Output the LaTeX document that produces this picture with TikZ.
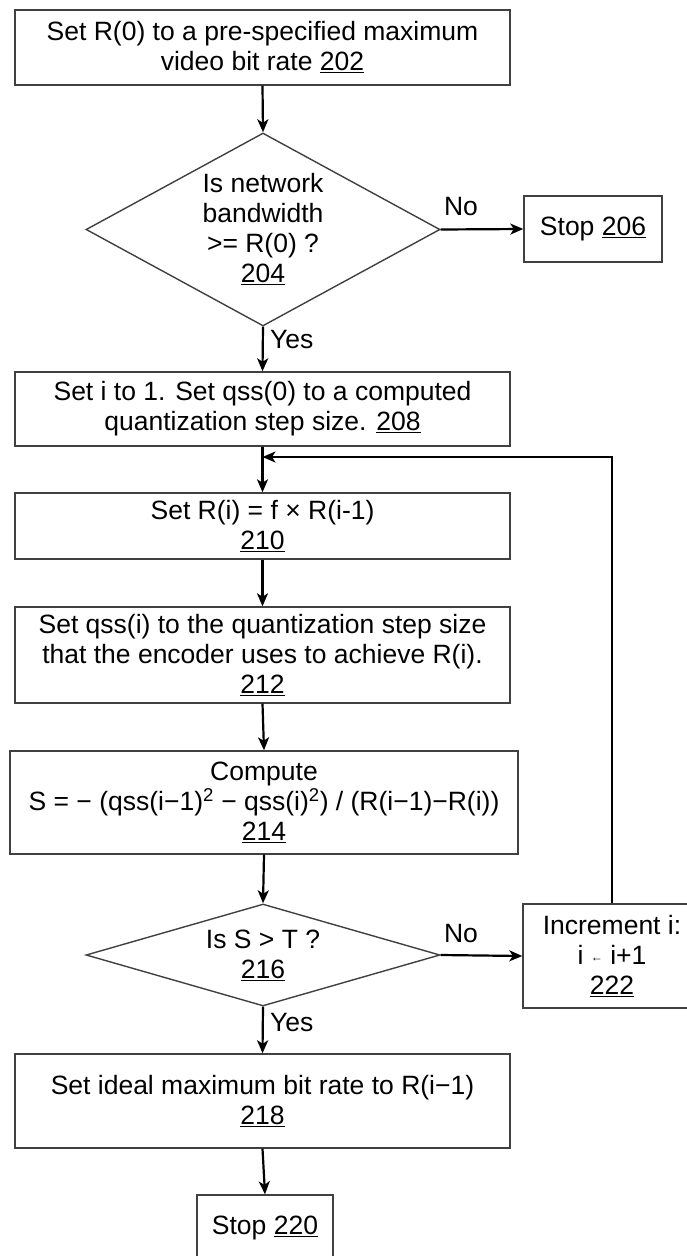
\documentclass[tikz,border=0pt]{standalone}
\usepackage{fontspec}
\setmainfont{Liberation Sans}
\usetikzlibrary{shapes.geometric,arrows.meta}
\begin{document}
\begin{tikzpicture}[x=1pt,y=1pt,
  every node/.style={font=\fontsize{26.5}{30}\selectfont},
  box/.style={draw=black!75, line width=1.4pt, align=center, inner sep=0pt},
  dia/.style={draw=black!75, line width=1.4pt, align=center, diamond, inner sep=0pt},
  flow/.style={line width=2.2pt, -{Stealth[length=13pt,width=11pt,inset=3.5pt]}},
  lbl/.style={inner sep=1pt}]
\useasboundingbox (0,0) rectangle (686,-1256);
\node[box, minimum width=495pt, minimum height=75pt] (b202) at (262.5,-47.5)
  {Set R(0) to a pre-specified maximum\\video bit rate \underline{202}};
\node[dia, minimum width=354pt, minimum height=193pt, shape aspect=1.8] (d204) at (263,-229.5)
  {Is network\\bandwidth\\>= R(0) ?\\\underline{204}};
\node[box, minimum width=138pt, minimum height=66pt] (s206) at (593,-229)
  {Stop \underline{206}};
\node[box, minimum width=495pt, minimum height=74pt] (b208) at (262.5,-409)
  {Set i to 1. Set qss(0) to a computed\\quantization step size. \underline{208}};
\node[box, minimum width=495pt, minimum height=66pt] (b210) at (262.5,-526)
  {Set R(i) = f × R(i-1)\\\underline{210}};
\node[box, minimum width=495pt, minimum height=96pt] (b212) at (262.5,-655)
  {Set qss(i) to the quantization step size\\that the encoder uses to achieve R(i).\\\underline{212}};
\node[box, minimum width=508pt, minimum height=103pt] (b214) at (264,-802.5)
  {Compute\\S = − (qss(i−1)\textsuperscript{2} − qss(i)\textsuperscript{2}) / (R(i−1)−R(i))\\\underline{214}};
\node[dia, minimum width=354pt, minimum height=102pt, shape aspect=3.4] (d216) at (263,-955)
  {Is S > T ?\\\underline{216}};
\node[box, minimum width=178pt, minimum height=104pt] (b222) at (612,-956)
  {Increment i:\\i {\fontsize{12}{12}\selectfont\raisebox{3pt}{←}} i+1\\\underline{222}};
\node[box, minimum width=495pt, minimum height=94pt] (b218) at (262.5,-1101)
  {Set ideal maximum bit rate to R(i−1)\\\underline{218}};
\node[box, minimum width=136pt, minimum height=66pt] (s220) at (265,-1228)
  {Stop \underline{220}};
\coordinate (join) at (262.5,-457);
\node[lbl, anchor=west] (yes1) at (269,-340) {Yes};
\node[lbl, anchor=west] (yes2) at (269,-1023) {Yes};
\node[lbl] (no1) at (461,-207) {No};
\node[lbl] (no2) at (461,-934) {No};
\draw[flow] (b202.south) -- (d204.north);
\draw[flow] (d204.east) -- (s206.west);
\draw[flow] (d204.south) -- (b208.north);
\draw[flow] (b208.south) -- (b210.north);
\draw[flow] (b222.north) |- (join);
\draw[flow] (b210.south) -- (b212.north);
\draw[flow] (b212.south) -- (b214.north);
\draw[flow] (b214.south) -- (d216.north);
\draw[flow] (d216.east) -- (b222.west);
\draw[flow] (d216.south) -- (b218.north);
\draw[flow] (b218.south) -- (s220.north);
\end{tikzpicture}
\end{document}
